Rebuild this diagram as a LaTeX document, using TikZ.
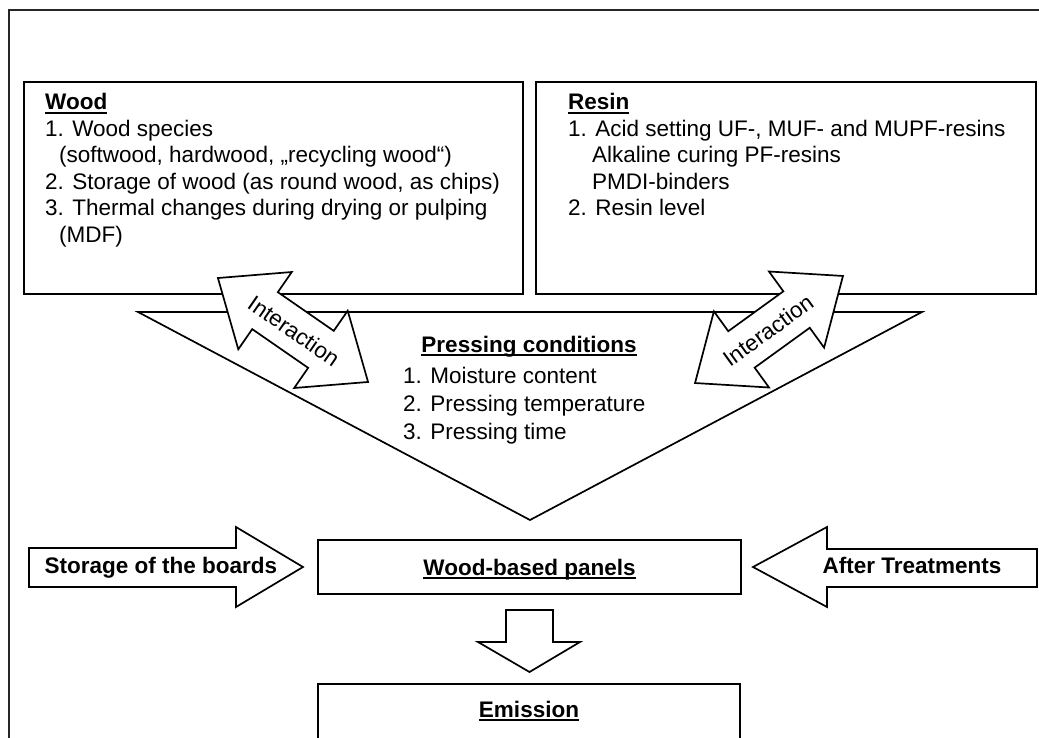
\documentclass[tikz,border=0pt]{standalone}
\usepackage{fontspec}
\setmainfont{Liberation Sans}
\newcommand\myul[1]{\setbox0\hbox{#1}\rlap{\rule[-3.6pt]{\wd0}{1.3pt}}\box0}
\begin{document}
\begin{tikzpicture}[x=1pt,y=-1pt,line join=miter]
\tikzset{
  frame/.style={draw=black!85,line width=2pt},
  box/.style={draw,line width=1.8pt,inner sep=0pt,anchor=north west},
  blockshape/.style={draw,line width=1.7pt,fill=white},
  txt/.style={inner sep=0pt,font=\fontsize{22.5}{26.5}\selectfont},
  lbl/.style={inner sep=0pt,font=\fontsize{22.5}{26.5}\selectfont\bfseries,anchor=base},
}
\useasboundingbox (0,0) rectangle (1039,738);
\clip (0,0) rectangle (1039,738);
\draw[frame] (9,10) rectangle (1070,780);

% upper boxes
\node[box,minimum width=499pt,minimum height=212pt] (woodbox) at (23,81) {};
\node[box,minimum width=500pt,minimum height=212pt] (resinbox) at (535,81) {};

\node[txt,anchor=base west] (woodtxt) at (45,110) {\fontsize{22.5}{26.5}\selectfont
\begin{tabular}[t]{@{}l@{}}
\myul{\textbf{Wood}}\\
1. Wood species\\
\hspace{14pt}(softwood, hardwood, „recycling wood“)\\
2. Storage of wood (as round wood, as chips)\\
3. Thermal changes during drying or pulping\\
\hspace{14pt}(MDF)
\end{tabular}};

\node[txt,anchor=base west] (resintxt) at (568,110) {\fontsize{22.5}{26.5}\selectfont
\begin{tabular}[t]{@{}l@{}}
\myul{\textbf{Resin}}\\
1. Acid setting UF-, MUF- and MUPF-resins\\
\hspace{24pt}Alkaline curing PF-resins\\
\hspace{24pt}PMDI-binders\\
2. Resin level
\end{tabular}};

% pressing triangle
\draw[blockshape] (138,312) -- (922,312) -- (530,520) -- cycle;
\node[lbl] (presstitle) at (529,352) {\myul{Pressing conditions}};
\node[txt,anchor=base west] (presstxt) at (403,383) {\fontsize{22.5}{28}\selectfont
\begin{tabular}[t]{@{}l@{}}
1. Moisture content\\
2. Pressing temperature\\
3. Pressing time
\end{tabular}};

% interaction arrows
\begin{scope}[shift={(293,330)},rotate=-34.7]
\draw[blockshape] (-91.3pt,0pt) -- (-34pt,47pt) -- (-34pt,22.5pt) -- (34pt,22.5pt) -- (34pt,47pt)
  -- (91.3pt,0pt) -- (34pt,-47pt) -- (34pt,-22.5pt) -- (-34pt,-22.5pt) -- (-34pt,-47pt) -- cycle;
\end{scope}
\node[txt,rotate=-34.7] (inter1) at (294,331) {Interaction};

\begin{scope}[shift={(769,329.5)},rotate=35.9]
\draw[blockshape] (-91.3pt,0pt) -- (-34pt,47pt) -- (-34pt,22.5pt) -- (34pt,22.5pt) -- (34pt,47pt)
  -- (91.3pt,0pt) -- (34pt,-47pt) -- (34pt,-22.5pt) -- (-34pt,-22.5pt) -- (-34pt,-47pt) -- cycle;
\end{scope}
\node[txt,rotate=35.9] (inter2) at (768,330.5) {Interaction};

% panels
\node[box,minimum width=423pt,minimum height=54pt] (panelbox) at (317,539) {};
\node[lbl] (panels) at (529.5,575) {\myul{Wood-based panels}};

% side arrows
\draw[blockshape] (29,548) -- (236,548) -- (236,527) -- (303,567) -- (236,607) -- (236,587) -- (29,587) -- cycle;
\node[lbl] (storage) at (161,573) {Storage of the boards};
\draw[blockshape] (1037,549) -- (827,549) -- (827,527) -- (753,567) -- (827,607) -- (827,587) -- (1037,587) -- cycle;
\node[lbl] (after) at (912,573) {After Treatments};

% down arrow
\draw[blockshape] (506,610) -- (553,610) -- (553,642) -- (580,642) -- (529.5,672) -- (478,642) -- (506,642) -- cycle;

% emission
\node[box,minimum width=422pt,minimum height=90pt] (emisbox) at (317,683) {};
\node[lbl] (emission) at (529,717) {\myul{Emission}};
\end{tikzpicture}
\end{document}
